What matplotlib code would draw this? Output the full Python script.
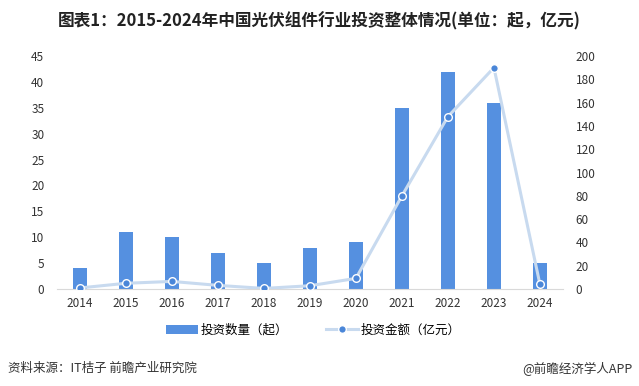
import numpy as np
import matplotlib.pyplot as plt

plt.rcParams['font.family'] = ['Noto Sans CJK SC', 'DejaVu Sans']

years = ['2014', '2015', '2016', '2017', '2018', '2019', '2020', '2021', '2022', '2023', '2024']
deal_count = [4, 11, 10, 7, 5, 8, 9, 35, 42, 36, 5]
deal_amount = [1, 5, 6.6, 3.2, 0.6, 2.9, 9.2, 80, 148, 190, 4]

fig = plt.figure(figsize=(6.39, 3.86), dpi=100)
ax = fig.add_axes([0.089, 0.251, 0.792, 0.604])
ax2 = ax.twinx()

x = np.arange(len(years))
bars = ax.bar(x, deal_count, width=0.3, color='#5590E0', label='投资数量（起）', zorder=2)
line, = ax2.plot(x, deal_amount, color='#C8DAEF', lw=2.2, marker='o', ms=5.5,
                 mfc='#4A86D8', mec='white', mew=1, label='投资金额（亿元）', zorder=3)

ax.set_xlim(-0.5, len(years) - 0.5)
ax.set_ylim(0, 45)
ax.set_yticks(np.arange(0, 46, 5))
ax2.set_ylim(0, 200)
ax2.set_yticks(np.arange(0, 201, 20))
ax.set_xticks(x)
ax.set_xticklabels(years)

for a in (ax, ax2):
    for s in a.spines.values():
        s.set_visible(False)
    a.tick_params(length=0, labelsize=8.5, colors='#333333')
ax.spines['bottom'].set_visible(True)
ax.spines['bottom'].set_color('#D9D9D9')
ax.tick_params(axis='y', pad=9)
ax2.tick_params(axis='y', pad=9)
ax.tick_params(axis='x', pad=6)

fig.legend(handles=[bars, line], loc='center', bbox_to_anchor=(0.49, 0.145), ncol=2,
           frameon=False, fontsize=9, handlelength=2.6, columnspacing=3, handletextpad=0.2)

fig.text(0.5, 0.945, '图表1：2015-2024年中国光伏组件行业投资整体情况(单位：起，亿元)',
         ha='center', va='center', fontsize=12, fontweight='bold', color='#222222')
fig.text(0.012, 0.045, '资料来源：IT桔子 前瞻产业研究院', ha='left', va='center',
         fontsize=9, color='#333333')
fig.text(0.99, 0.045, '@前瞻经济学人APP', ha='right', va='center',
         fontsize=9, color='#333333')

fig.savefig('out.png', dpi=100)
